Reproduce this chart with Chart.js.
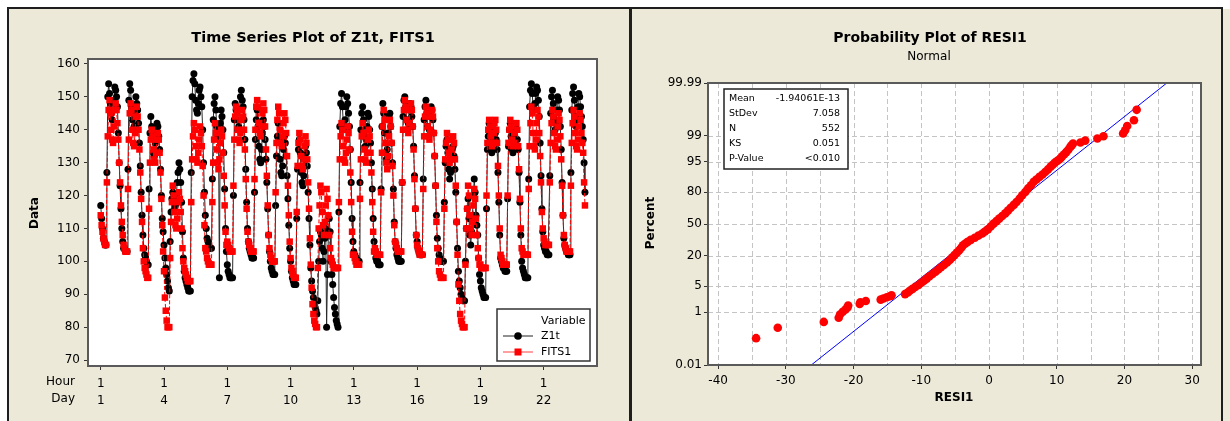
<!DOCTYPE html>
<html>
<head>
<meta charset="utf-8">
<script src="https://cdn.jsdelivr.net/npm/chart.js@4/dist/chart.umd.min.js"></script>
<style>
  body { margin: 0; background: #fff; width: 1230px; height: 421px; overflow: hidden; position: relative; }
  .ln { position: absolute; background: #1e1e1e; }
  canvas { position: absolute; }
</style>
</head>
<body>
<div class="ln" style="left:7px;top:7px;width:1216px;height:2px"></div>
<div class="ln" style="left:7px;top:7px;width:2px;height:414px"></div>
<div class="ln" style="left:629px;top:7px;width:3px;height:414px"></div>
<div class="ln" style="left:1221px;top:7px;width:2px;height:414px"></div>
<div style="position:absolute;left:1223px;top:9px;width:7px;height:412px;background:#ECE9D8"></div>
<canvas id="ts" width="620" height="412" style="left:9px;top:9px"></canvas>
<canvas id="pp" width="589" height="412" style="left:632px;top:9px"></canvas>
<script>
// ---- time series (hourly, 23 days x 24 hours = 552 obs) ----
var z1t = [
  117,113,110,107,106,105,105,127,150,154,151,148,145,143,146,149,153,152,150,147,139,130,123,116, // day 1
  110,106,104,104,103,103,103,128,149,154,152,147,143,140,141,145,150,148,146,142,136,129,121,114, // day 2
  108,104,102,101,100,99,99,122,139,144,141,138,133,132,136,140,142,141,138,134,128,120,113,109,   // day 3
  105,101,98,96,94,92,91,106,115,119,121,118,116,117,120,124,127,130,128,124,118,109,101,97,       // day 4
  95,94,93,92,91,91,91,127,150,155,157,154,149,146,145,148,152,153,150,147,140,130,121,114,        // day 5
  110,107,106,105,104,104,104,125,143,148,150,146,141,138,140,95,142,146,144,140,133,122,110,103,  // day 6
  99,97,96,95,95,95,95,120,143,148,146,143,140,141,146,150,152,149,147,143,137,128,118,110,        // day 7
  106,104,103,102,101,101,101,121,137,143,146,141,135,131,130,134,139,143,141,137,131,124,116,108, // day 8
  103,100,98,97,96,96,96,117,132,138,142,137,131,127,126,129,134,138,136,132,126,119,111,104,      // day 9
  100,97,95,94,93,93,93,113,128,134,137,133,127,124,123,126,131,135,133,129,121,113,105,98,        // day 10
  94,91,89,87,86,85,84,88,100,106,109,108,104,100,103,107,110,80,96,108,113,109,100,96,            // day 11
  93,89,86,84,82,81,80,115,141,148,151,147,142,140,143,147,150,148,145,141,134,124,113,106,        // day 12
  103,102,101,101,100,100,100,124,140,145,147,143,138,135,137,141,145,144,140,136,130,122,113,106, // day 13
  103,101,100,100,99,99,99,122,141,148,145,139,133,131,134,139,144,145,141,136,130,122,112,106,    // day 14
  104,102,101,100,100,100,100,124,144,149,150,147,143,140,142,146,148,147,144,141,135,126,116,108, // day 15
  106,104,103,102,102,102,102,125,143,147,149,145,141,138,140,144,147,146,143,139,132,123,114,107, // day 16
  104,102,101,100,100,100,100,118,130,135,137,133,128,125,127,131,134,135,132,128,121,112,104,97,  // day 17
  94,92,90,89,88,88,88,100,110,116,119,113,108,105,109,114,120,125,121,114,111,108,101,96,         // day 18
  94,92,91,90,89,89,89,116,134,138,142,139,135,133,134,137,140,139,137,134,127,118,108,101,        // day 19
  100,99,98,98,97,97,97,119,135,140,142,138,134,133,135,138,141,140,137,134,127,118,108,100,       // day 20
  98,97,96,95,95,95,95,125,147,152,154,151,147,146,148,151,153,152,149,144,136,126,116,109,        // day 21
  105,104,103,103,102,102,102,126,145,150,152,148,143,140,142,146,150,149,146,141,134,124,114,107, // day 22
  105,104,103,103,102,102,102,127,146,151,153,149,144,141,143,147,151,150,147,144,141,137,130,121  // day 23
];
var fits1 = [
  114,111,109,107,106,105,105,124,138,146,149,145,140,137,136,141,146,148,146,142,137,130,124,117,
  112,108,105,104,103,103,103,122,137,145,148,146,140,136,135,139,144,147,144,140,134,127,119,112,
  104,100,98,97,96,95,95,116,130,137,140,138,134,131,130,133,137,139,137,133,127,119,111,103,
  97,89,85,82,80,80,80,101,112,118,123,120,115,111,110,113,118,121,119,115,110,104,100,98,
  97,96,95,94,94,94,94,118,131,138,142,140,135,131,130,133,137,141,139,135,129,120,111,104,
  103,101,100,99,99,99,99,118,130,137,142,139,134,130,128,131,136,140,138,133,126,117,109,105,
  106,105,104,103,103,103,103,123,137,144,147,145,140,137,136,139,143,146,144,140,134,125,116,109,
  106,105,104,103,103,103,103,125,140,147,149,147,142,139,138,141,145,148,146,141,134,126,117,108,
  104,102,101,100,100,100,100,121,136,143,147,145,140,136,135,138,142,145,143,139,132,123,114,106,
  101,98,97,96,95,95,95,115,129,136,139,137,132,129,128,131,135,138,136,131,124,116,107,99,
  92,87,84,82,81,80,80,98,110,117,123,121,115,111,108,112,117,122,119,114,108,104,101,100,
  99,98,98,98,98,98,98,118,131,138,142,140,135,131,130,133,137,141,139,134,127,118,109,102,
  102,101,100,99,99,99,99,119,131,138,142,139,134,131,130,133,137,140,138,133,127,118,109,103,
  104,103,102,102,102,102,102,121,133,141,146,143,136,130,128,132,138,143,141,136,129,120,111,106,
  105,104,103,103,103,103,103,124,140,146,149,147,143,140,139,142,146,148,146,141,134,125,116,108,
  105,104,103,102,102,102,102,122,138,144,147,145,141,138,137,140,144,146,144,139,132,123,112,104,
  100,97,96,95,95,95,95,116,131,136,139,137,133,130,131,134,137,138,136,131,123,112,102,93,
  88,84,82,81,80,80,80,99,110,116,123,120,114,110,108,112,117,122,119,113,108,104,101,99,
  99,98,98,98,98,98,98,120,136,140,143,141,138,135,136,139,142,143,140,136,129,120,110,102,
  101,100,99,99,99,99,99,120,136,140,143,141,137,135,136,139,142,142,140,135,128,119,110,104,
  103,102,102,102,102,102,102,122,135,142,147,145,139,135,134,137,142,146,144,139,132,124,115,110,
  107,106,105,105,105,105,105,124,136,142,146,144,139,135,134,137,141,145,143,138,131,123,114,108,
  105,104,103,103,103,103,103,123,136,142,146,144,139,135,134,137,141,145,143,139,136,133,124,117
];
var hourTicks = ['1', '1', '1', '1', '1', '1', '1', '1'];
var dayTicks = ['1', '4', '7', '10', '13', '16', '19', '22'];
var dataTicks = [70, 80, 90, 100, 110, 120, 130, 140, 150, 160];

// ---- probability plot of residuals (read along the plotted points) ----
var resi = [
  -34.4, -31.2, -24.4, -22.2, -22.0, -21.6, -21.2, -20.9, -20.8, -19.1, -19.0, -18.2, -16.0, -15.6, -15.1, -14.6, -14.4,
  -12.4, -12.0, -11.7, -11.3, -10.9, -10.4, -10.0, -9.6, -9.2, -8.8, -8.35, -7.9, -7.5, -7.1, -6.66, -6.2, -5.8, -5.45,
  -5.1, -4.75, -4.4, -4.1, -3.84, -3.5, -3.16, -2.7, -2.1, -1.55, -1.0, -0.6, -0.17, 0.25, 0.68, 1.1, 1.5, 1.95, 2.4,
  2.8, 3.2, 3.65, 4.06, 4.5, 4.9, 5.35, 5.76, 6.2, 6.6, 7.0, 7.45, 7.9, 8.3, 8.7, 9.1, 9.4, 9.7, 10.0, 10.3, 10.6,
  10.8, 11.1, 11.4, 11.7, 12.0, 12.2, 12.4,
  13.5, 14.2, 16.0, 16.9, 19.8, 20.1, 20.4, 21.4, 21.8
];
var pct = [
  0.13, 0.31, 0.49, 0.67, 0.85, 1.03, 1.21, 1.39, 1.58, 1.76, 1.94, 2.12, 2.30, 2.48, 2.66, 2.84, 3.02,
  3.22, 3.55, 3.92, 4.35, 4.85, 5.40, 6.06, 6.75, 7.49, 8.40, 9.34, 10.4, 11.5, 12.7, 14.0, 15.5, 17.1, 18.8,
  20.6, 22.5, 24.5, 26.6, 28.8, 30.3, 31.9, 33.8, 35.9, 38.0, 40.1, 42.2, 44.4, 47.4, 50.4, 53.0, 55.6, 58.3, 61.0,
  63.8, 66.6, 69.3, 71.9, 74.8, 77.6, 80.1, 82.6, 84.7, 86.7, 88.0, 89.3, 90.4, 91.5, 92.5, 93.5, 94.1, 94.7, 95.1, 95.5, 95.9,
  96.3, 96.7, 97.1, 97.5, 97.9, 98.1, 98.3,
  98.42, 98.61, 98.79, 98.97, 99.15, 99.33, 99.51, 99.69, 99.87
];
var fitResi = [-26.25, 26.25];
var fitPct = [0.01, 99.99];
var pctTicks = [0.01, 1, 5, 20, 50, 80, 95, 99, 99.99];
var pctGrid = [1, 5, 20, 50, 80, 95, 99];
var resiTicks = [-40, -30, -20, -10, 0, 10, 20, 30];
var resiGrid = [-40, -35, -30, -25, -20, -15, -10, -5, 0, 5, 10, 15, 20, 25, 30];
var statNames = ['Mean', 'StDev', 'N', 'KS', 'P-Value'];
var statValues = ['-1.94061E-13', '7.058', '552', '0.051', '<0.010'];

var BG = '#ECE9D8';
var FONT = 'DejaVu Sans';
Chart.defaults.font.family = FONT;
Chart.defaults.color = '#000';

// inverse standard normal cdf (probability scale)
function probit(p) {
  var a = [-39.69683028665376, 220.9460984245205, -275.9285104469687, 138.3577518672690, -30.66479806614716, 2.506628277459239];
  var b = [-54.47609879822406, 161.5858368580409, -155.6989798598866, 66.80131188771972, -13.28068155288572];
  var c = [-0.007784894002430293, -0.3223964580411365, -2.400758277161838, -2.549732539343734, 4.374664141464968, 2.938163982698783];
  var d = [0.007784695709041462, 0.3224671290700398, 2.445134137142996, 3.754408661907416];
  var q, r;
  if (p < 0.02425) {
    q = Math.sqrt(-2 * Math.log(p));
    return (((((c[0]*q+c[1])*q+c[2])*q+c[3])*q+c[4])*q+c[5]) / ((((d[0]*q+d[1])*q+d[2])*q+d[3])*q+1);
  }
  if (p > 1 - 0.02425) {
    q = Math.sqrt(-2 * Math.log(1 - p));
    return -(((((c[0]*q+c[1])*q+c[2])*q+c[3])*q+c[4])*q+c[5]) / ((((d[0]*q+d[1])*q+d[2])*q+d[3])*q+1);
  }
  q = p - 0.5; r = q * q;
  return (((((a[0]*r+a[1])*r+a[2])*r+a[3])*r+a[4])*r+a[5])*q / (((((b[0]*r+b[1])*r+b[2])*r+b[3])*r+b[4])*r+1);
}

function panelBg(chart) {
  var ctx = chart.ctx, a = chart.chartArea;
  ctx.save();
  ctx.fillStyle = BG;
  ctx.fillRect(0, 0, chart.width, chart.height);
  ctx.fillStyle = '#fff';
  ctx.fillRect(a.left, a.top, a.right - a.left, a.bottom - a.top);
  ctx.restore();
}
function frame(ctx, a) {
  ctx.save();
  ctx.strokeStyle = '#5a5a5a';
  ctx.lineWidth = 2;
  ctx.strokeRect(a.left, a.top, a.right - a.left, a.bottom - a.top);
  ctx.restore();
}
function text(ctx, s, x, y, font, align, rot) {
  ctx.save();
  ctx.font = font;
  ctx.fillStyle = '#000';
  ctx.textAlign = align || 'center';
  ctx.textBaseline = 'middle';
  ctx.translate(x, y);
  if (rot) ctx.rotate(rot);
  ctx.fillText(s, 0, 0);
  ctx.restore();
}

// ---------- left: time series plot ----------
var tsDeco = {
  id: 'tsDeco',
  beforeDraw: panelBg,
  afterDraw: function (chart) {
    var ctx = chart.ctx;
    frame(ctx, chart.chartArea);
    text(ctx, 'Time Series Plot of Z1t, FITS1', 304, 29, 'bold 14.5px ' + FONT);
    text(ctx, 'Data', 26, 204, 'bold 12px ' + FONT, 'center', -Math.PI / 2);
    text(ctx, 'Hour', 66, 373, '12px ' + FONT, 'right');
    text(ctx, 'Day', 66, 390, '12px ' + FONT, 'right');
    // legend
    ctx.save();
    ctx.fillStyle = '#fff';
    ctx.fillRect(488, 300, 93, 52);
    ctx.strokeStyle = '#333';
    ctx.lineWidth = 1.5;
    ctx.strokeRect(488, 300, 93, 52);
    ctx.restore();
    text(ctx, 'Variable', 532, 312, '11px ' + FONT, 'left');
    text(ctx, 'Z1t', 532, 327, '11px ' + FONT, 'left');
    text(ctx, 'FITS1', 532, 343, '11px ' + FONT, 'left');
    ctx.save();
    ctx.strokeStyle = '#222'; ctx.lineWidth = 1;
    ctx.beginPath(); ctx.moveTo(494, 327); ctx.lineTo(524, 327); ctx.stroke();
    ctx.fillStyle = '#000';
    ctx.beginPath(); ctx.arc(509, 327, 3.8, 0, Math.PI * 2); ctx.fill();
    ctx.strokeStyle = '#ff4040';
    ctx.beginPath(); ctx.moveTo(494, 343); ctx.lineTo(524, 343); ctx.stroke();
    ctx.fillStyle = '#ff0000';
    ctx.fillRect(505.5, 339.5, 7, 7);
    ctx.restore();
  }
};

new Chart(document.getElementById('ts'), {
  type: 'line',
  data: {
    datasets: [
      {
        label: 'FITS1',
        data: fits1.map(function (v, i) { return { x: i, y: v }; }),
        borderColor: '#ff0000', borderWidth: 1, borderDash: [4, 2],
        pointStyle: 'rect', pointRadius: 4.6, pointBackgroundColor: '#ff0000', pointBorderWidth: 0,
        tension: 0, order: 1
      },
      {
        label: 'Z1t',
        data: z1t.map(function (v, i) { return { x: i, y: v }; }),
        borderColor: '#2a2a2a', borderWidth: 1,
        pointStyle: 'circle', pointRadius: 3.5, pointBackgroundColor: '#000', pointBorderWidth: 0,
        tension: 0, order: 2
      }
    ]
  },
  options: {
    responsive: false, animation: false, events: [], devicePixelRatio: 1,
    layout: { padding: { left: 0, top: 50, right: 32, bottom: 0 } },
    plugins: { legend: { display: false }, tooltip: { enabled: false } },
    scales: {
      x: {
        type: 'linear', min: -14.5, max: 564.7,
        afterBuildTicks: function (s) { s.ticks = dayTicks.map(function (d) { return { value: (Number(d) - 1) * 24 }; }); },
        afterFit: function (s) { s.height = 55; },
        grid: { drawOnChartArea: false, drawTicks: true, tickLength: 4, color: '#333' },
        border: { display: false },
        ticks: {
          autoSkip: false, maxRotation: 0, padding: 5,
          font: { size: 12, lineHeight: 1.45 },
          callback: function (v, i) { return [hourTicks[i], dayTicks[i]]; }
        }
      },
      y: {
        min: 68.2, max: 161.5,
        afterBuildTicks: function (s) { s.ticks = dataTicks.map(function (v) { return { value: v }; }); },
        afterFit: function (s) { s.width = 79; },
        grid: { drawOnChartArea: false, drawTicks: true, tickLength: 4, color: '#333' },
        border: { display: false },
        ticks: { padding: 4, font: { size: 12 } }
      }
    }
  },
  plugins: [tsDeco]
});

// ---------- right: normal probability plot ----------
var ppDeco = {
  id: 'ppDeco',
  beforeDraw: panelBg,
  beforeDatasetsDraw: function (chart) {
    var ctx = chart.ctx, a = chart.chartArea, xs = chart.scales.x, ys = chart.scales.y;
    ctx.save();
    ctx.strokeStyle = '#c4c4c4';
    ctx.lineWidth = 1;
    ctx.setLineDash([5, 3]);
    resiGrid.forEach(function (v) {
      var x = Math.round(xs.getPixelForValue(v)) + 0.5;
      ctx.beginPath(); ctx.moveTo(x, a.top); ctx.lineTo(x, a.bottom); ctx.stroke();
    });
    pctGrid.forEach(function (p) {
      var y = Math.round(ys.getPixelForValue(probit(p / 100))) + 0.5;
      ctx.beginPath(); ctx.moveTo(a.left, y); ctx.lineTo(a.right, y); ctx.stroke();
    });
    ctx.restore();
  },
  afterDraw: function (chart) {
    var ctx = chart.ctx;
    frame(ctx, chart.chartArea);
    text(ctx, 'Probability Plot of RESI1', 298, 29, 'bold 14px ' + FONT);
    text(ctx, 'Normal', 297, 48, '12px ' + FONT);
    text(ctx, 'Percent', 19, 214, 'bold 12px ' + FONT, 'center', -Math.PI / 2);
    text(ctx, 'RESI1', 322, 389, 'bold 12px ' + FONT);
    ctx.save();
    ctx.fillStyle = '#fff';
    ctx.fillRect(92, 80, 124, 80);
    ctx.strokeStyle = '#222';
    ctx.lineWidth = 1.5;
    ctx.strokeRect(92, 80, 124, 80);
    ctx.restore();
    statNames.forEach(function (n, i) {
      text(ctx, n, 97, 90 + i * 15, '9.5px ' + FONT, 'left');
      text(ctx, statValues[i], 208, 90 + i * 15, '9.5px ' + FONT, 'right');
    });
  }
};

new Chart(document.getElementById('pp'), {
  type: 'scatter',
  data: {
    datasets: [
      {
        label: 'RESI1',
        data: resi.map(function (v, i) { return { x: v, y: probit(pct[i] / 100) }; }),
        pointStyle: 'circle', pointRadius: 4.3, pointBackgroundColor: '#ff0000', pointBorderWidth: 0,
        order: 1
      },
      {
        label: 'fit', type: 'line', showLine: true,
        data: fitResi.map(function (v, i) { return { x: v, y: probit(fitPct[i] / 100) }; }),
        borderColor: '#0000ff', borderWidth: 1, pointRadius: 0,
        order: 2
      }
    ]
  },
  options: {
    responsive: false, animation: false, events: [], devicePixelRatio: 1,
    layout: { padding: { left: 0, top: 74, right: 20, bottom: 0 } },
    plugins: { legend: { display: false }, tooltip: { enabled: false } },
    scales: {
      x: {
        type: 'linear', min: -41.5, max: 31.3,
        afterBuildTicks: function (s) { s.ticks = resiTicks.map(function (v) { return { value: v }; }); },
        afterFit: function (s) { s.height = 56; },
        grid: { drawOnChartArea: false, drawTicks: true, tickLength: 4, color: '#333' },
        border: { display: false },
        ticks: { padding: 5, font: { size: 12 } }
      },
      y: {
        type: 'linear', min: probit(0.0001), max: probit(0.9999),
        afterBuildTicks: function (s) { s.ticks = pctTicks.map(function (p) { return { value: probit(p / 100) }; }); },
        afterFit: function (s) { s.width = 76; },
        grid: { drawOnChartArea: false, drawTicks: true, tickLength: 4, color: '#333' },
        border: { display: false },
        ticks: { padding: 2, font: { size: 12 }, callback: function (v, i) { return String(pctTicks[i]); } }
      }
    }
  },
  plugins: [ppDeco]
});
</script>
</body>
</html>
